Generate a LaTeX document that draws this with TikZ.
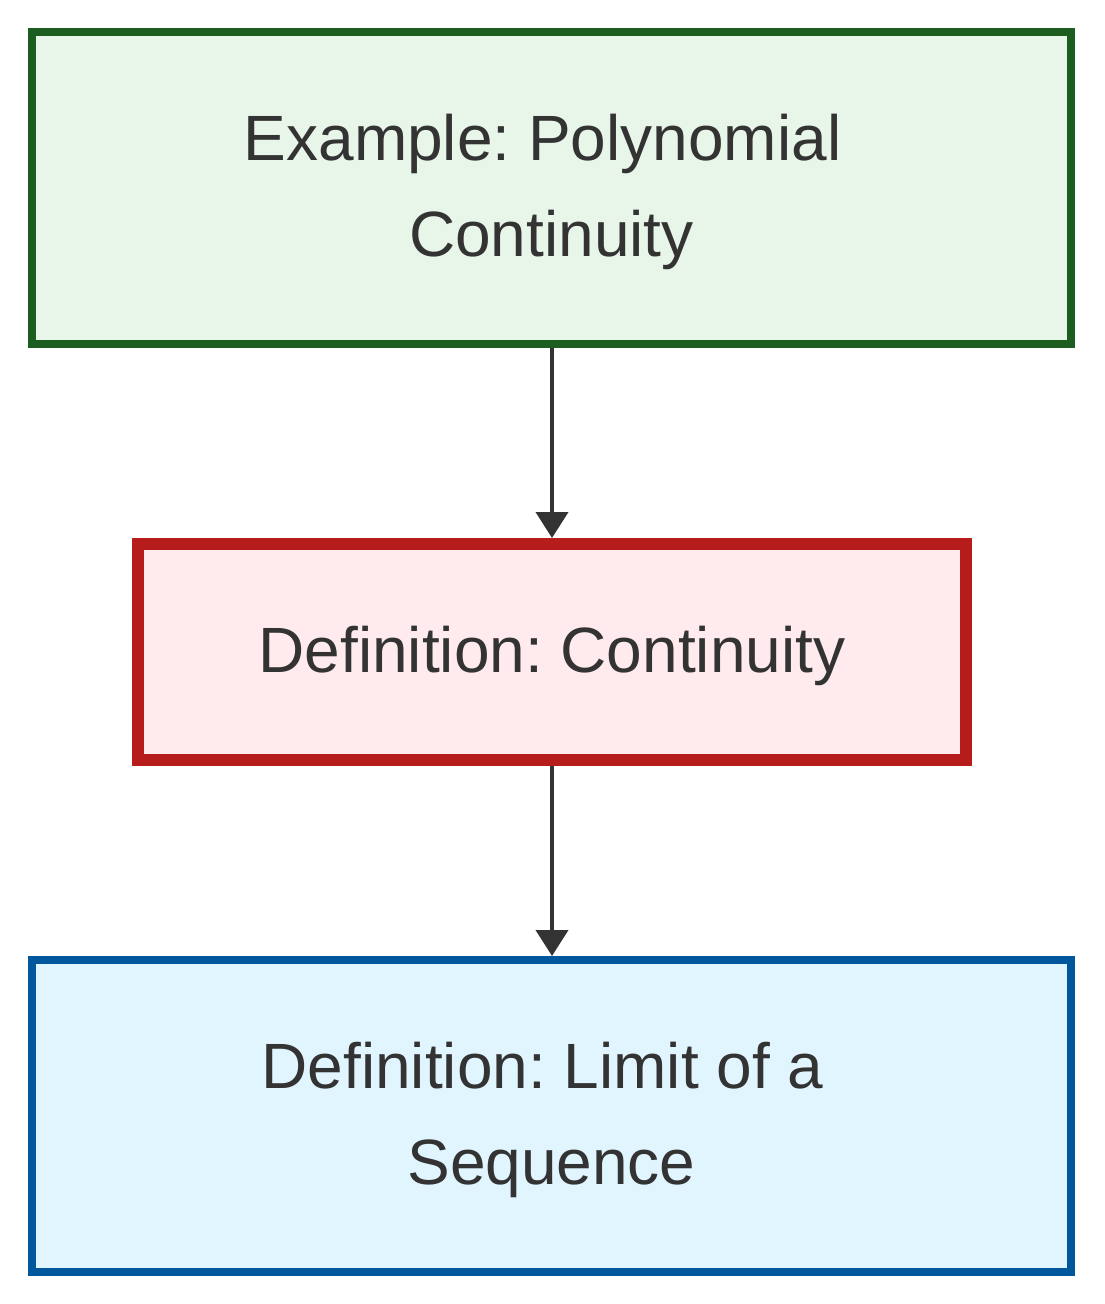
\documentclass[tikz,border=0pt]{standalone}
\usepackage{fontspec}
\setmainfont{Liberation Sans}
\usetikzlibrary{arrows.meta}

\definecolor{txt}{HTML}{333333}
\definecolor{exStroke}{HTML}{1B5E20}
\definecolor{exFill}{HTML}{E8F5E9}
\definecolor{defStroke}{HTML}{B71C1C}
\definecolor{defFill}{HTML}{FFEBEE}
\definecolor{limStroke}{HTML}{01579B}
\definecolor{limFill}{HTML}{E1F5FE}

% width of the space that ends a wrapped line
\newcommand{\wrapgap}{\kern0.278em}

\tikzset{
  card/.style={rectangle, align=center, text=txt, inner sep=0pt,
    font=\frenchspacing\fontsize{64}{96}\selectfont},
  twoline/.style={text height=143pt, text depth=6pt},
  oneline/.style={text height=46pt, text depth=6pt},
  example/.style={card, twoline, draw=exStroke, fill=exFill, line width=8pt},
  definition/.style={card, oneline, draw=defStroke, fill=defFill, line width=12pt},
  limitdef/.style={card, twoline, draw=limStroke, fill=limFill, line width=8pt},
  link/.style={draw=txt, line width=4pt,
    -{Triangle[length=26pt, width=32pt]}}
}

\begin{document}
\begin{tikzpicture}[x=1pt, y=-1pt]
  \useasboundingbox (0,0) rectangle (1104,1304);
  \fill[white] (0,0) rectangle (1104,1304);

  \node[example, minimum width=1039pt, minimum height=312pt]
    (poly) at (551.5,188) {Example: Polynomial\wrapgap\\Continuity};
  \node[definition, minimum width=828pt, minimum height=216pt]
    (cont) at (552,652) {Definition: Continuity};
  \node[limitdef, minimum width=1039pt, minimum height=312pt]
    (lim) at (551.5,1116) {Definition: Limit of a\wrapgap\\Sequence};

  \draw[link] (poly.south -| cont.north) -- (cont.north);
  \draw[link] (cont.south) -- (lim.north -| cont.south);
\end{tikzpicture}
\end{document}
